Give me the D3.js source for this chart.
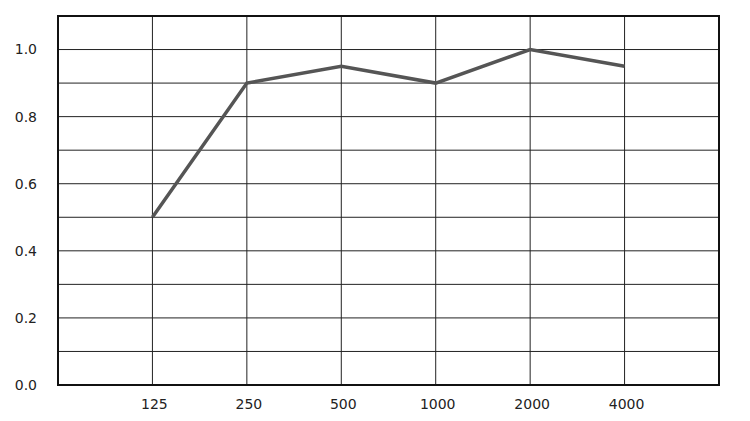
<!DOCTYPE html>
<html>
<head>
<meta charset="utf-8">
<script src="https://cdn.jsdelivr.net/npm/d3@7"></script>
<style>
  body { margin: 0; background: #fff; }
  text { font-family: "Century Gothic", "DejaVu Sans", sans-serif; }
</style>
</head>
<body>
<div id="chart"></div>
<script>
var freqs = ["125", "250", "500", "1000", "2000", "4000"]
var absorption = [0.5, 0.9, 0.95, 0.9, 1.0, 0.95]
var yTicks = [0, 0.2, 0.4, 0.6, 0.8, 1.0]

var width = 750, height = 421
var margin = { top: 16, right: 31, bottom: 36, left: 58 }
var w = width - margin.left - margin.right
var h = height - margin.top - margin.bottom

var svg = d3.select("#chart")
  .append("svg")
  .attr("width", width)
  .attr("height", height)
  .append("g")
  .attr("transform", "translate(" + margin.left + "," + margin.top + ")");

// pad the domain with two empty slots so the categories sit inside the frame
var x = d3.scalePoint()
  .domain(["_l"].concat(freqs, ["_r"]))
  .range([0, w])

var y = d3.scaleLinear()
  .domain([0, 1.1])
  .range([h, 0])

// horizontal grid every 0.1
svg.append("g")
  .selectAll("line")
  .data(d3.range(1, 11).map(function (d) { return d / 10 }))
  .enter()
  .append("line")
  .attr("x1", 0)
  .attr("x2", w)
  .attr("y1", function (d) { return y(d) })
  .attr("y2", function (d) { return y(d) })
  .attr("stroke", "#222")
  .attr("stroke-width", 1)

// vertical grid at each frequency
svg.append("g")
  .selectAll("line")
  .data(freqs)
  .enter()
  .append("line")
  .attr("x1", function (d) { return x(d) })
  .attr("x2", function (d) { return x(d) })
  .attr("y1", 0)
  .attr("y2", h)
  .attr("stroke", "#222")
  .attr("stroke-width", 1)

// frame
svg.append("rect")
  .attr("x", 0)
  .attr("y", 0)
  .attr("width", w)
  .attr("height", h)
  .attr("fill", "none")
  .attr("stroke", "#111")
  .attr("stroke-width", 2)

// y labels
svg.append("g")
  .selectAll("text")
  .data(yTicks)
  .enter()
  .append("text")
  .attr("x", -21)
  .attr("y", function (d) { return y(d) })
  .attr("dy", "0.35em")
  .attr("text-anchor", "end")
  .attr("font-size", 14)
  .attr("fill", "#222")
  .text(function (d) { return d3.format(".1f")(d) })

// x labels
svg.append("g")
  .selectAll("text")
  .data(freqs)
  .enter()
  .append("text")
  .attr("x", function (d) { return x(d) + 2 })
  .attr("y", h + 19)
  .attr("dy", "0.35em")
  .attr("text-anchor", "middle")
  .attr("font-size", 14)
  .attr("fill", "#222")
  .text(function (d) { return d })

var line = d3.line()
  .x(function (d, i) { return x(freqs[i]) })
  .y(function (d) { return y(d) })

svg.append("path")
  .datum(absorption)
  .attr("d", line)
  .attr("fill", "none")
  .attr("stroke", "#555")
  .attr("stroke-width", 3.5)
  .attr("stroke-linejoin", "miter")
</script>
</body>
</html>
